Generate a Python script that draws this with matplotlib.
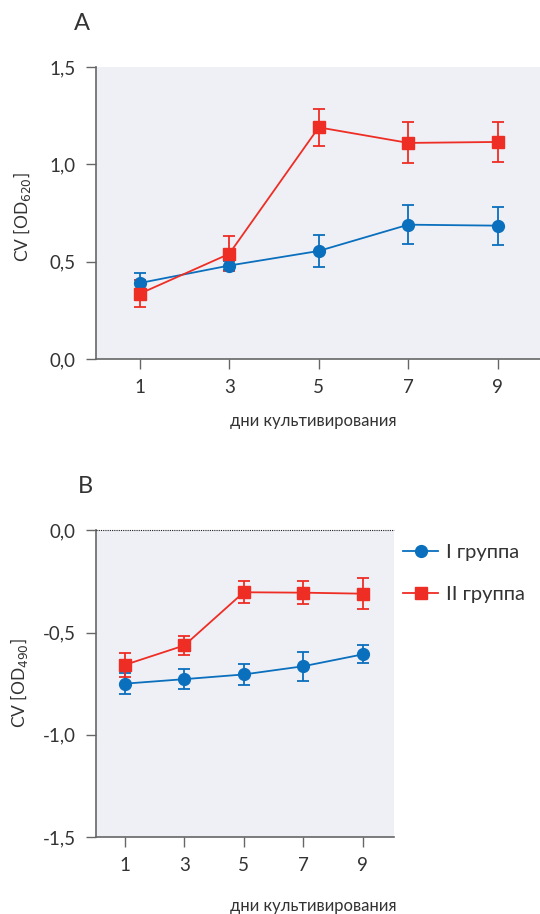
import matplotlib
matplotlib.use("Agg")
import matplotlib.pyplot as plt

plt.rcParams['font.family'] = ['Lato', 'DejaVu Sans']

days = [1, 3, 5, 7, 9]
xticklabels = ['1', '3', '5', '7', '9']

# Panel A (OD620)
a_g1 = [0.39, 0.48, 0.555, 0.69, 0.685]
a_g1_err = [0.05, 0.025, 0.08, 0.10, 0.097]
a_g2 = [0.335, 0.54, 1.19, 1.11, 1.115]
a_g2_err = [0.07, 0.09, 0.095, 0.105, 0.105]
a_yticks = [0.0, 0.5, 1.0, 1.5]
a_yticklabels = ['0,0', '0,5', '1,0', '1,5']

# Panel B (OD490)
b_g1 = [-0.75, -0.728, -0.705, -0.665, -0.607]
b_g1_err = [0.05, 0.05, 0.05, 0.072, 0.044]
b_g2 = [-0.658, -0.563, -0.303, -0.305, -0.31]
b_g2_err = [0.06, 0.047, 0.055, 0.055, 0.076]
b_yticks = [-1.5, -1.0, -0.5, 0.0]
b_yticklabels = ['-1,5', '-1,0', '-0,5', '0,0']

labels = ['I группа', 'II группа']

BLUE = '#0a6fbd'
RED = '#ee2d24'
BG = '#eff0f6'
TXT = '#333333'
SPINE = '#666666'

fig = plt.figure(figsize=(5.4, 9.14), dpi=100)

axA = fig.add_axes([95.7/540, 1 - 359/914, 444.3/540, 292/914])
axB = fig.add_axes([95.7/540, 1 - 837/914, 298.3/540, 306.7/914])


def style(ax):
    ax.set_facecolor(BG)
    for s in ['top', 'right']:
        ax.spines[s].set_visible(False)
    for s in ['left', 'bottom']:
        ax.spines[s].set_color(SPINE)
        ax.spines[s].set_linewidth(1.2)
    ax.tick_params(direction='out', length=7.5, width=1.0, color=SPINE,
                   labelsize=13.5, labelcolor=TXT)
    ax.tick_params(axis='y', pad=7)
    ax.tick_params(axis='x', pad=7)
    ax.set_xticks(days)
    ax.set_xticklabels(xticklabels)


def draw(ax, y1, e1, y2, e2):
    c1 = ax.errorbar(days, y1, yerr=e1, color=BLUE, lw=1.3, elinewidth=1.3,
                     capsize=4.6, capthick=1.3, marker='o', markersize=8.5,
                     label=labels[0], zorder=3)
    c2 = ax.errorbar(days, y2, yerr=e2, color=RED, lw=1.3, elinewidth=1.3,
                     capsize=4.6, capthick=1.3, marker='s', markersize=9,
                     label=labels[1], zorder=3)
    return c1, c2


style(axA)
draw(axA, a_g1, a_g1_err, a_g2, a_g2_err)
axA.set_xlim(0.02, 9.94)
axA.set_ylim(0, 1.5)
axA.set_yticks(a_yticks)
axA.set_yticklabels(a_yticklabels)

style(axB)
cb1, cb2 = draw(axB, b_g1, b_g1_err, b_g2, b_g2_err)
axB.set_xlim(0.013, 10.06)
axB.set_ylim(-1.5, 0)
axB.set_yticks(b_yticks)
axB.set_yticklabels(b_yticklabels)
axB.axhline(0, color='#222222', lw=0.8, ls=(0, (1, 1)), zorder=4, clip_on=False)

leg = axB.legend([cb1.lines[0], cb2.lines[0]], labels, loc='upper left',
                 bbox_to_anchor=(1.03, 0.955),
                 frameon=False, fontsize=14.5, handlelength=1.75,
                 handletextpad=0.4, labelspacing=1.25, borderpad=0,
                 borderaxespad=0)
for t in leg.get_texts():
    t.set_color(TXT)

fig.text(22/540, 1 - 217/914, 'CV [OD$_{620}$]', rotation=90, ha='center',
         va='center', fontsize=12.5, color=TXT)
fig.text(19/540, 1 - 683/914, 'CV [OD$_{490}$]', rotation=90, ha='center',
         va='center', fontsize=12.5, color=TXT)
fig.text(313/540, 1 - 421/914, 'дни культивирования', ha='center',
         va='center', fontsize=12, color=TXT)
fig.text(313/540, 1 - 906/914, 'дни культивирования', ha='center',
         va='center', fontsize=12, color=TXT)
fig.text(82/540, 1 - 23/914, 'A', ha='center', va='center', fontsize=17,
         color=TXT)
fig.text(85/540, 1 - 487/914, 'B', ha='center', va='center', fontsize=17,
         color=TXT)

fig.savefig('out.png', dpi=100)
